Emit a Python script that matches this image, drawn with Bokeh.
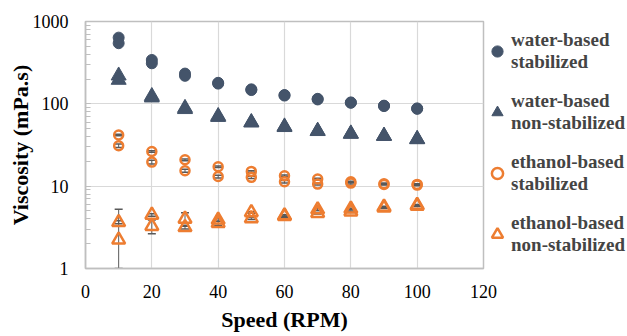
from bokeh.plotting import figure
from bokeh.models import (ColumnDataSource, Whisker, TeeHead, Legend, LegendItem,
                          FixedTicker, LogTicker, Range1d)
from bokeh.embed import file_html
from bokeh.resources import INLINE

# ---------------- data ----------------
speed = [10, 20, 30, 40, 50, 60, 70, 80, 90, 100]

water_stab_1 = [637, 341, 233, 180, 150, 128, 115, 104, 95, 88]
water_stab_2 = [545, 311, 219, 176, 147, 126, 113, 103, 94, 87]

water_non_1 = [220, 124, 89, 71, 60, 53, 47, 43.6, 41, 37.5]
water_non_2 = [195, 119, 86, 69, 59, 52, 46.5, 43, 40.5, 37]

eth_stab_1 = [41.8, 26.4, 20.9, 17.2, 15.1, 13.4, 12.2, 11.3, 10.7, 10.5]
eth_stab_2 = [31.0, 19.6, 15.4, 13.1, 12.8, 11.3, 10.6, 10.9, 10.5, 10.3]
eth_stab_err_1 = [0.8, 0.6, 0.5, 0.4, 0.3, 0.3, 0.3, 0.2, 0.2, 0.2]
eth_stab_err_2 = [1.5, 1.0, 0.6, 0.5, 0.4, 0.4, 0.3, 0.3, 0.2, 0.2]

eth_non_1 = [3.64, 4.47, 4.0, 3.9, 4.8, 4.4, 5.2, 5.3, 5.6, 5.9]
eth_non_2 = [2.23, 3.26, 3.16, 3.55, 4.05, 4.3, 4.7, 4.9, 5.45, 5.75]
eth_non_err_1 = [0.15, 0.15, 0.75, 0.15, 0.1, 0.1, 0.15, 0.1, 0.1, 0.1]
eth_non_err_2 = [3.0, 0.62, 0.15, 0.2, 0.1, 0.15, 0.1, 0.1, 0.1, 0.1]

labels = ["water-based\nstabilized", "water-based\nnon-stabilized",
          "ethanol-based\nstabilized", "ethanol-based\nnon-stabilized"]

x_ticks = [0, 20, 40, 60, 80, 100, 120]
y_ticks = [1, 10, 100, 1000]
X_MIN, X_MAX = 0, 120
Y_MIN, Y_MAX = 1, 1000

NAVY = "#44546A"
ORANGE = "#ED7D31"
SERIF = "Liberation Serif"

# ---------------- figure ----------------
p = figure(y_axis_type="log",
           x_range=Range1d(X_MIN, X_MAX), y_range=Range1d(Y_MIN, Y_MAX),
           output_backend="svg", toolbar_location=None,
           frame_width=398, frame_height=247,
           min_border_left=85, min_border_right=0, min_border_top=21,
           min_border_bottom=0)
p.background_fill_color = "white"
p.border_fill_color = "white"
p.outline_line_color = "#BFBFBF"
p.outline_line_width = 1.5

def both(a, b):
    return speed + speed, a + b

# water-based stabilized
xs, ys = both(water_stab_1, water_stab_2)
r1 = p.scatter(xs, ys, marker="circle", size=11, fill_color=NAVY, line_color=NAVY)

# water-based non-stabilized
xs, ys = both(water_non_1, water_non_2)
r2 = p.scatter(xs, ys, marker="triangle", size=15, fill_color=NAVY, line_color=NAVY)

# ethanol-based stabilized
xs, ys = both(eth_stab_1, eth_stab_2)
_, es = both(eth_stab_err_1, eth_stab_err_2)
src3 = ColumnDataSource(dict(x=xs, y=ys,
                             lo=[max(v - e, Y_MIN) for v, e in zip(ys, es)],
                             hi=[v + e for v, e in zip(ys, es)]))
r3 = p.scatter("x", "y", source=src3, marker="circle", size=9,
               fill_color=None, line_color=ORANGE, line_width=2.5)

# ethanol-based non-stabilized
xs, ys = both(eth_non_1, eth_non_2)
_, es = both(eth_non_err_1, eth_non_err_2)
src4 = ColumnDataSource(dict(x=xs, y=ys,
                             lo=[max(v - e, Y_MIN) for v, e in zip(ys, es)],
                             hi=[v + e for v, e in zip(ys, es)]))
r4 = p.scatter("x", "y", source=src4, marker="triangle", size=13,
               fill_color=None, line_color=ORANGE, line_width=2.5)

for src in (src3, src4):
    w = Whisker(source=src, base="x", lower="lo", upper="hi",
                line_color="#595959", line_width=1,
                upper_head=TeeHead(size=8, line_color="#595959", line_width=1.5),
                lower_head=TeeHead(size=8, line_color="#595959", line_width=1.5))
    p.add_layout(w)

# ---------------- axes ----------------
p.xaxis.ticker = FixedTicker(ticks=x_ticks)
p.yaxis.ticker = LogTicker(desired_num_ticks=4, num_minor_ticks=10)
p.yaxis.major_label_overrides = {t: str(t) for t in y_ticks}

for ax in (p.xaxis[0], p.yaxis[0]):
    ax.axis_line_color = "#BFBFBF"
    ax.axis_line_width = 1.5
    ax.major_label_text_font = SERIF
    ax.major_label_text_font_size = "18px"
    ax.major_label_text_color = "#000000"
    ax.axis_label_text_font = SERIF
    ax.axis_label_text_font_style = "bold"
    ax.axis_label_text_font_size = "22px"
    ax.axis_label_text_color = "#000000"

p.xaxis.axis_label = "Speed (RPM)"
p.yaxis.axis_label = "Viscosity (mPa.s)"
p.xaxis.major_tick_in = 0
p.xaxis.major_tick_out = 0
p.xaxis.minor_tick_line_color = None
p.xaxis.major_label_standoff = 16
p.xaxis.axis_label_standoff = 6
p.yaxis.major_tick_in = 0
p.yaxis.major_tick_out = 0
p.yaxis.minor_tick_in = 5
p.yaxis.minor_tick_out = 0
p.yaxis.minor_tick_line_color = "#BFBFBF"
p.yaxis.major_label_standoff = 17
p.yaxis.axis_label_standoff = -3

p.xgrid.grid_line_color = "#D9D9D9"
p.ygrid.grid_line_color = "#D9D9D9"
p.xgrid.grid_line_width = 1.2
p.ygrid.grid_line_width = 1.2

# ---------------- legend ----------------
legend = Legend(items=[LegendItem(label=labels[i], renderers=[r])
                       for i, r in enumerate([r1, r2, r3, r4])],
                location=(0, 12))
legend.label_text_font = SERIF
legend.label_text_font_style = "bold"
legend.label_text_font_size = "19px"
legend.label_text_line_height = 1.05
legend.label_standoff = -6
legend.glyph_width = 28
legend.glyph_height = 28
legend.spacing = 17
legend.padding = 1
legend.margin = 0
legend.border_line_color = None
legend.background_fill_alpha = 0
p.add_layout(legend, "right")

open("out.html", "w").write(file_html(p, INLINE))
